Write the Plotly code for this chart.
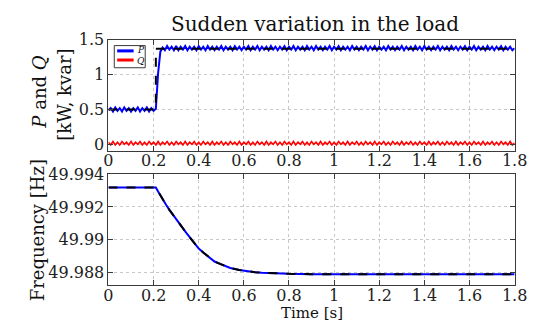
import plotly.graph_objects as go

# ---------------- data ----------------
# P and Q sampled every 0.01 s from 0 to 1.8 s
P_kw = [
    0.49, 0.52, 0.47, 0.53, 0.48, 0.52, 0.47, 0.53, 0.48, 0.52,
    0.47, 0.52, 0.48, 0.53, 0.47, 0.52, 0.48, 0.53, 0.47, 0.52,
    0.48, 0.51, 1.02, 1.33, 1.39, 1.35, 1.41, 1.36, 1.40, 1.35,
    1.41, 1.35, 1.40, 1.36, 1.41, 1.35, 1.40, 1.36, 1.40, 1.35,
    1.41, 1.36, 1.40, 1.35, 1.41, 1.36, 1.40, 1.35, 1.40, 1.36,
    1.41, 1.35, 1.40, 1.36, 1.40, 1.35, 1.41, 1.36, 1.40, 1.35,
    1.40, 1.36, 1.41, 1.35, 1.40, 1.36, 1.41, 1.35, 1.40, 1.36,
    1.40, 1.35, 1.41, 1.36, 1.40, 1.35, 1.40, 1.36, 1.41, 1.35,
    1.40, 1.36, 1.41, 1.35, 1.40, 1.36, 1.40, 1.35, 1.41, 1.36,
    1.40, 1.35, 1.41, 1.36, 1.40, 1.35, 1.40, 1.36, 1.41, 1.35,
    1.40, 1.36, 1.41, 1.35, 1.40, 1.36, 1.40, 1.35, 1.41, 1.36,
    1.40, 1.35, 1.40, 1.36, 1.41, 1.35, 1.40, 1.36, 1.41, 1.35,
    1.40, 1.36, 1.40, 1.35, 1.41, 1.36, 1.40, 1.35, 1.40, 1.36,
    1.41, 1.35, 1.40, 1.36, 1.40, 1.35, 1.41, 1.36, 1.40, 1.35,
    1.41, 1.36, 1.40, 1.35, 1.40, 1.36, 1.41, 1.35, 1.40, 1.36,
    1.40, 1.35, 1.41, 1.36, 1.40, 1.35, 1.40, 1.36, 1.41, 1.35,
    1.40, 1.36, 1.41, 1.35, 1.40, 1.36, 1.40, 1.35, 1.41, 1.36,
    1.40, 1.35, 1.40, 1.36, 1.41, 1.35, 1.40, 1.36, 1.40, 1.35,
    1.38,
]
Q_kvar = [
    0.03, -0.01, 0.04, -0.01, 0.03, -0.01, 0.04, 0.00, 0.03, -0.01,
    0.04, -0.01, 0.03, 0.00, 0.04, -0.01, 0.03, -0.01, 0.04, 0.00,
    0.03, -0.01, 0.04, -0.01, 0.03, 0.00, 0.04, -0.01, 0.03, -0.01,
    0.04, 0.00, 0.03, -0.01, 0.04, -0.01, 0.03, 0.00, 0.04, -0.01,
    0.03, -0.01, 0.04, 0.00, 0.03, -0.01, 0.04, -0.01, 0.03, 0.00,
    0.04, -0.01, 0.03, -0.01, 0.04, 0.00, 0.03, -0.01, 0.04, -0.01,
    0.03, 0.00, 0.04, -0.01, 0.03, -0.01, 0.04, 0.00, 0.03, -0.01,
    0.04, -0.01, 0.03, 0.00, 0.04, -0.01, 0.03, -0.01, 0.04, 0.00,
    0.03, -0.01, 0.04, -0.01, 0.03, 0.00, 0.04, -0.01, 0.03, -0.01,
    0.04, 0.00, 0.03, -0.01, 0.04, -0.01, 0.03, 0.00, 0.04, -0.01,
    0.03, -0.01, 0.04, 0.00, 0.03, -0.01, 0.04, -0.01, 0.03, 0.00,
    0.04, -0.01, 0.03, -0.01, 0.04, 0.00, 0.03, -0.01, 0.04, -0.01,
    0.03, 0.00, 0.04, -0.01, 0.03, -0.01, 0.04, 0.00, 0.03, -0.01,
    0.04, -0.01, 0.03, 0.00, 0.04, -0.01, 0.03, -0.01, 0.04, 0.00,
    0.03, -0.01, 0.04, -0.01, 0.03, 0.00, 0.04, -0.01, 0.03, -0.01,
    0.04, 0.00, 0.03, -0.01, 0.04, -0.01, 0.03, 0.00, 0.04, -0.01,
    0.03, -0.01, 0.04, 0.00, 0.03, -0.01, 0.04, -0.01, 0.03, 0.00,
    0.04, -0.01, 0.03, -0.01, 0.04, 0.00, 0.03, -0.01, 0.04, -0.01,
    0.02,
]
t_pq = [round(i * 0.01, 2) for i in range(len(P_kw))]

# reference (dashed) active power
t_pref = [0.0, 0.21, 0.21, 1.8]
P_ref = [0.5, 0.5, 1.37, 1.37]

# frequency
t_f = [0.0, 0.1, 0.21, 0.22, 0.23, 0.24, 0.256, 0.27, 0.29, 0.31, 0.327, 0.345,
       0.36, 0.38, 0.4, 0.42, 0.44, 0.47, 0.5, 0.54, 0.58, 0.61, 0.65, 0.68,
       0.74, 0.8, 0.9, 1.0, 1.4, 1.8]
freq = [49.99318, 49.99318, 49.99318, 49.99294, 49.99269, 49.99244, 49.99212,
        49.99182, 49.99143, 49.99105, 49.99074, 49.99042, 49.99016, 49.98980,
        49.98947, 49.98923, 49.98901, 49.98868, 49.98851, 49.98829, 49.98816,
        49.98809, 49.98803, 49.98800, 49.98796, 49.98793, 49.98791, 49.98790,
        49.98790, 49.98790]

x_ticks = [0, 0.2, 0.4, 0.6, 0.8, 1.0, 1.2, 1.4, 1.6, 1.8]
x_ticktext = ["0", "0.2", "0.4", "0.6", "0.8", "1", "1.2", "1.4", "1.6", "1.8"]
y1_ticks = [0, 0.5, 1, 1.5]
y1_ticktext = ["0", "0.5", "1", "1.5"]
y2_ticks = [49.988, 49.99, 49.992, 49.994]
y2_ticktext = ["49.988", "49.99", "49.992", "49.994"]

# ---------------- figure ----------------
W, H = 545, 324
FONT = "DejaVu Serif"
AX = "#3a3a3a"

fig = go.Figure()
fig.add_trace(go.Scatter(x=t_pq, y=P_kw, mode="lines", name="P",
                         line=dict(color="#0000ff", width=2), xaxis="x", yaxis="y"))
fig.add_trace(go.Scatter(x=t_pq, y=Q_kvar, mode="lines", name="Q",
                         line=dict(color="#ff0000", width=1.6), xaxis="x", yaxis="y"))
fig.add_trace(go.Scatter(x=t_pref, y=P_ref, mode="lines", name="P ref",
                         line=dict(color="black", width=2, dash="dash"), xaxis="x", yaxis="y"))
fig.add_trace(go.Scatter(x=t_f, y=freq, mode="lines", name="f",
                         line=dict(color="#0000ff", width=2), xaxis="x2", yaxis="y2"))
fig.add_trace(go.Scatter(x=t_f, y=freq, mode="lines", name="f ref",
                         line=dict(color="black", width=2, dash="dash"),
                         xaxis="x2", yaxis="y2"))

xdom = [107 / W, 527 / W]
common_x = dict(range=[0, 1.8], tickvals=x_ticks, ticktext=x_ticktext,
                showline=True, linecolor=AX, linewidth=1, mirror="allticks",
                ticks="inside", ticklen=5, tickcolor=AX,
                showgrid=True, gridcolor="#c8c8c8", griddash="dot", gridwidth=1,
                zeroline=False, domain=xdom, ticklabelstandoff=-5,
                tickfont=dict(family=FONT, size=16, color="#222"))
common_y = dict(showline=True, linecolor=AX, linewidth=1, mirror="allticks",
                ticks="inside", ticklen=5, tickcolor=AX,
                showgrid=True, gridcolor="#c8c8c8", griddash="dot", gridwidth=1,
                zeroline=False,
                tickfont=dict(family=FONT, size=16, color="#222"))

fig.update_layout(
    width=W, height=H,
    margin=dict(l=0, r=0, t=0, b=0),
    paper_bgcolor="white", plot_bgcolor="white",
    showlegend=False,
    xaxis=dict(**common_x, anchor="y"),
    yaxis=dict(**common_y, range=[-0.09, 1.5], tickvals=y1_ticks, ticktext=y1_ticktext,
               domain=[1 - 147 / H, 1 - 32 / H], anchor="x"),
    xaxis2=dict(**common_x, anchor="y2"),
    yaxis2=dict(**common_y, range=[49.98723, 49.99402], tickvals=y2_ticks, ticktext=y2_ticktext,
                domain=[1 - 287 / H, 1 - 171 / H], anchor="x2"),
)

def ann(text, x, y, size, angle=0):
    fig.add_annotation(text=text, x=x / W, y=1 - y / H, xref="paper", yref="paper",
                       showarrow=False, textangle=angle, xanchor="center", yanchor="middle",
                       font=dict(family=FONT, size=size, color="#111"))

ann("Sudden variation in the load", 321, 16, 20)
ann("<i>P</i> and <i>Q</i>", 36, 86, 18, -90)
ann("[kW, kvar]", 62, 89, 18, -90)
ann("Frequency [Hz]", 34, 230, 18, -90)
ann("Time [s]", 317, 316, 15)

# legend box (drawn manually to match the compact original)
fig.add_shape(type="rect", xref="paper", yref="paper",
              x0=113 / W, x1=145 / W, y0=1 - 61 / H, y1=1 - 38 / H,
              line=dict(color=AX, width=1), fillcolor="white", layer="above")
fig.add_shape(type="line", xref="paper", yref="paper",
              x0=116 / W, x1=133 / W, y0=1 - 43.5 / H, y1=1 - 43.5 / H,
              line=dict(color="#0000ff", width=3), layer="above")
fig.add_shape(type="line", xref="paper", yref="paper",
              x0=116 / W, x1=133 / W, y0=1 - 53 / H, y1=1 - 53 / H,
              line=dict(color="#ff0000", width=3), layer="above")
fig.add_annotation(text="<i>P</i>", x=134 / W, y=1 - 43 / H, xref="paper", yref="paper",
                   showarrow=False, xanchor="left", yanchor="middle",
                   font=dict(family=FONT, size=9, color="#111"))
fig.add_annotation(text="<i>Q</i>", x=134 / W, y=1 - 54 / H, xref="paper", yref="paper",
                   showarrow=False, xanchor="left", yanchor="middle",
                   font=dict(family=FONT, size=9, color="#111"))

fig.write_html("out.html")
